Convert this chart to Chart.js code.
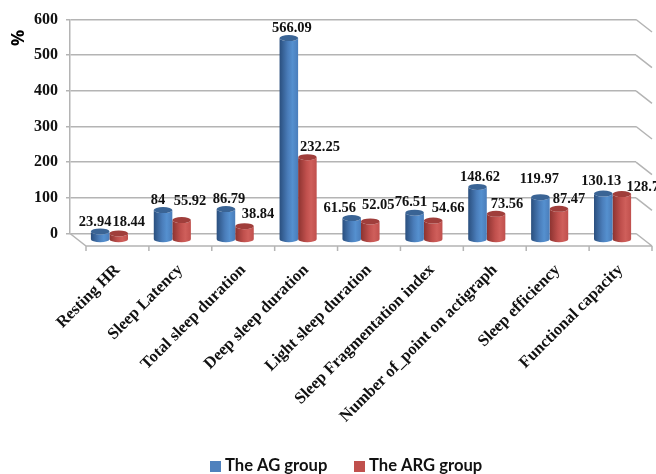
<!DOCTYPE html>
<html>
<head>
<meta charset="utf-8">
<script src="https://cdn.jsdelivr.net/npm/chart.js@4/dist/chart.umd.min.js"></script>
<style>
html, body { margin: 0; padding: 0; background: #fff; }
#wrap { width: 656px; height: 474px; overflow: hidden; }
</style>
</head>
<body>
<div id="wrap"><canvas id="myChart" width="656" height="474"></canvas></div>
<script>
const categories = ['Resting HR', 'Sleep Latency', 'Total sleep duration', 'Deep sleep duration',
    'Light sleep duration', 'Sleep Fragmentation index', 'Number of_point on actigraph',
    'Sleep efficiency', 'Functional capacity'];
const agValues = [23.94, 84, 86.79, 566.09, 61.56, 76.51, 148.62, 119.97, 130.13];
const argValues = [18.44, 55.92, 38.84, 232.25, 52.05, 54.66, 73.56, 87.47, 128.7];
const yTicks = [0, 100, 200, 300, 400, 500, 600];

// the bars stand in front of the back wall
const depthX = 8, depthY = 6.5;
const floorX = 16, floorY = 12.5;
const serifBold = 'bold 14.5px "Liberation Serif"';

// hand placed value labels, relative to the top of each bar
const agNudge = [[-5, -9.5], [-5, -10], [3, -10], [3, -10], [-12, -10], [-3.6, -10], [2.5, -10], [-1, -18], [-2, -12.6]];
const argNudge = [[10, -11], [8.4, -19], [13.5, -12], [12.6, -10], [8, -16], [15, -12.5], [11, -10], [10, -10], [21, -7]];

function cylinder(ctx, el, look) {
    const x = el.x + depthX, w = el.width, rx = w / 2, ry = 3;
    const top = el.y + depthY, bottom = el.base + depthY;
    const g = ctx.createLinearGradient(x - rx, 0, x + rx, 0);
    g.addColorStop(0, look[0]);
    g.addColorStop(0.45, look[1]);
    g.addColorStop(0.7, look[2]);
    g.addColorStop(1, look[1]);
    ctx.fillStyle = g;
    ctx.beginPath();
    ctx.ellipse(x, bottom, rx, ry, 0, 0, Math.PI);
    ctx.lineTo(x - rx, top);
    ctx.ellipse(x, top, rx, ry, 0, Math.PI, 0, true);
    ctx.closePath();
    ctx.fill();
    ctx.fillStyle = look[3];
    ctx.beginPath();
    ctx.ellipse(x, top, rx, ry, 0, 0, Math.PI * 2);
    ctx.fill();
}

const cylinderPlugin = {
    id: 'cylinders',
    beforeDatasetDraw(chart, args) {
        const looks = [['#2a4f7e', '#4a7dba', '#5590cf', '#3a6495'], ['#8c3330', '#c0504d', '#cf5f5b', '#a03e3b']];
        const ctx = chart.ctx;
        ctx.save();
        chart.getDatasetMeta(args.index).data.forEach(el => cylinder(ctx, el, looks[args.index]));
        ctx.restore();
        return false;
    }
};

const wallPlugin = {
    id: 'walls',
    beforeDatasetsDraw(chart) {
        const ctx = chart.ctx, area = chart.chartArea, y = chart.scales.y, x = chart.scales.x;
        ctx.save();
        ctx.strokeStyle = '#b4b4b4';
        ctx.lineWidth = 1.5;
        ctx.beginPath();
        // right wall
        yTicks.forEach(t => {
            ctx.moveTo(area.right, y.getPixelForValue(t));
            ctx.lineTo(area.right + floorX, y.getPixelForValue(t) + floorY);
        });
        // floor
        ctx.moveTo(area.left, area.bottom);
        ctx.lineTo(area.left + floorX, area.bottom + floorY);
        ctx.lineTo(area.right + floorX, area.bottom + floorY);
        // category ticks along the front of the floor
        categories.forEach((c, i) => {
            const px = x.getPixelForValue(i) - x.width / categories.length / 2 + floorX;
            ctx.moveTo(px, area.bottom + floorY);
            ctx.lineTo(px, area.bottom + floorY + 5);
        });
        ctx.moveTo(area.right + floorX, area.bottom + floorY);
        ctx.lineTo(area.right + floorX, area.bottom + floorY + 5);
        ctx.stroke();
        ctx.restore();
    }
};

const labelPlugin = {
    id: 'valueLabels',
    afterDatasetsDraw(chart) {
        const ctx = chart.ctx;
        ctx.save();
        ctx.font = serifBold;
        ctx.fillStyle = '#111';
        ctx.textAlign = 'center';
        ctx.textBaseline = 'middle';
        [agNudge, argNudge].forEach((nudge, d) => {
            const values = chart.data.datasets[d].data;
            chart.getDatasetMeta(d).data.forEach((el, i) => {
                ctx.fillText(String(values[i]), el.x + depthX + nudge[i][0], el.y + depthY + nudge[i][1]);
            });
        });

        // legend sits tight, box right against the text
        ctx.font = 'bold 16.6px Lato';
        ctx.textAlign = 'left';
        [[210, '#4f81bd'], [354, '#c0504d']].forEach((item, d) => {
            ctx.fillStyle = item[1];
            ctx.fillRect(item[0], 461, 11, 11);
            ctx.fillStyle = '#111';
            ctx.fillText(chart.data.datasets[d].label, item[0] + 15, 466);
        });

        // axis title
        ctx.translate(19, 38);
        ctx.rotate(-Math.PI / 2);
        ctx.font = 'bold 18px "Open Sans"';
        ctx.textAlign = 'center';
        ctx.fillStyle = '#000';
        ctx.fillText('%', 0, 0);
        ctx.restore();
    }
};

var ctx = document.getElementById('myChart').getContext('2d');
var chart = new Chart(ctx, {
    type: 'bar',
    data: {
        labels: categories,
        datasets: [
            { label: 'The AG group', data: agValues, backgroundColor: '#4f81bd', order: 1 },
            { label: 'The ARG group', data: argValues, backgroundColor: '#c0504d', order: 2 }
        ]
    },
    plugins: [wallPlugin, cylinderPlugin, labelPlugin],
    options: {
        responsive: false,
        animation: false,
        layout: { padding: { top: 19.5, right: 20, left: 0, bottom: 0 } },
        categoryPercentage: 0.59,
        barPercentage: 1,
        scales: {
            x: {
                grid: { display: false },
                border: { display: false },
                ticks: {
                    autoSkip: false,
                    minRotation: 45,
                    maxRotation: 45,
                    padding: 19,
                    labelOffset: 16,
                    color: '#111',
                    font: { family: 'Liberation Serif', weight: 'bold', size: 16.5 }
                },
                afterFit(scale) { scale.height = 240.5; }
            },
            y: {
                min: 0,
                max: 600,
                afterBuildTicks(scale) { scale.ticks = yTicks.map(v => ({ value: v })); },
                grid: { color: '#b4b4b4', lineWidth: 1.5, drawTicks: true, tickLength: 4 },
                border: { color: '#b4b4b4', width: 1.5 },
                ticks: {
                    padding: 8,
                    color: '#111',
                    font: { family: 'Liberation Serif', weight: 'bold', size: 16 }
                },
                afterFit(scale) { scale.width = 70; }
            }
        },
        plugins: {
            tooltip: { enabled: false },
            legend: { display: false }
        }
    }
});
</script>
</body>
</html>
